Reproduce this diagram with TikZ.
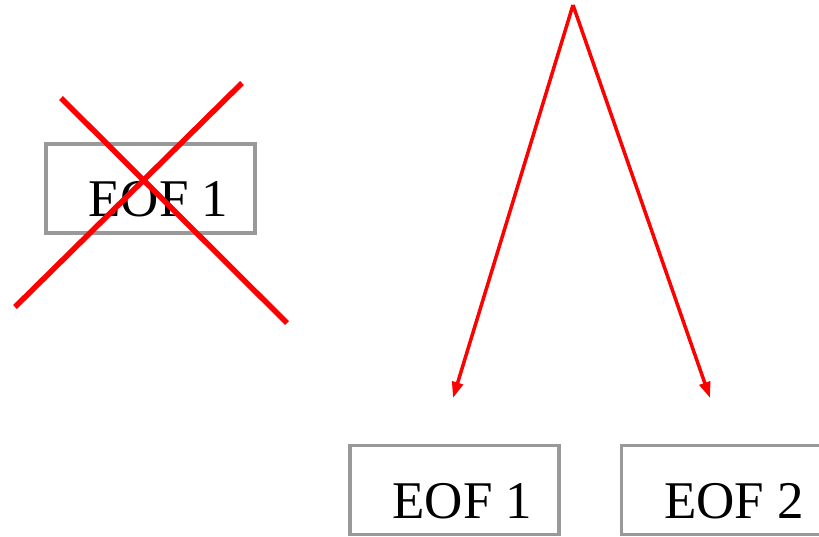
\documentclass[tikz,border=0pt]{standalone}
\usepackage{fontspec}
\setmainfont{Liberation Serif}
\usetikzlibrary{arrows.meta,positioning}

\begin{document}
\begin{tikzpicture}[x=1pt,y=-1pt,>={Triangle[length=16pt,width=11pt]},
  font=\fontsize{53}{60}\selectfont,
  eofbox/.style={draw=gray!80,line width=3.5pt,minimum width=209pt,minimum height=89pt,
    inner sep=0pt,text height=56pt,text depth=0pt},
  split/.style={red,line width=3.5pt},
  strike/.style={red,line width=5.5pt}]
\useasboundingbox (0,0) rectangle (819,536);
\node[eofbox] (old) at (150.5,188.5) {\hspace*{16pt}EOF 1};
\node[eofbox] (eofa) at (454.5,490) {\hspace*{16pt}EOF 1};
\node[eofbox,right=59pt of eofa] (eofb) {\hspace*{16pt}EOF 2};
% crossed out
\draw[strike] (61,98) -- (287,323);
\draw[strike] (242,83) -- (15,307);
% split into two
\coordinate (top) at (573,5);
\coordinate (enda) at (453,398);
\coordinate (endb) at (710,398);
\draw[split,->] (top) -- (enda);
\draw[split,->] (top) -- (endb);
\end{tikzpicture}
\end{document}
